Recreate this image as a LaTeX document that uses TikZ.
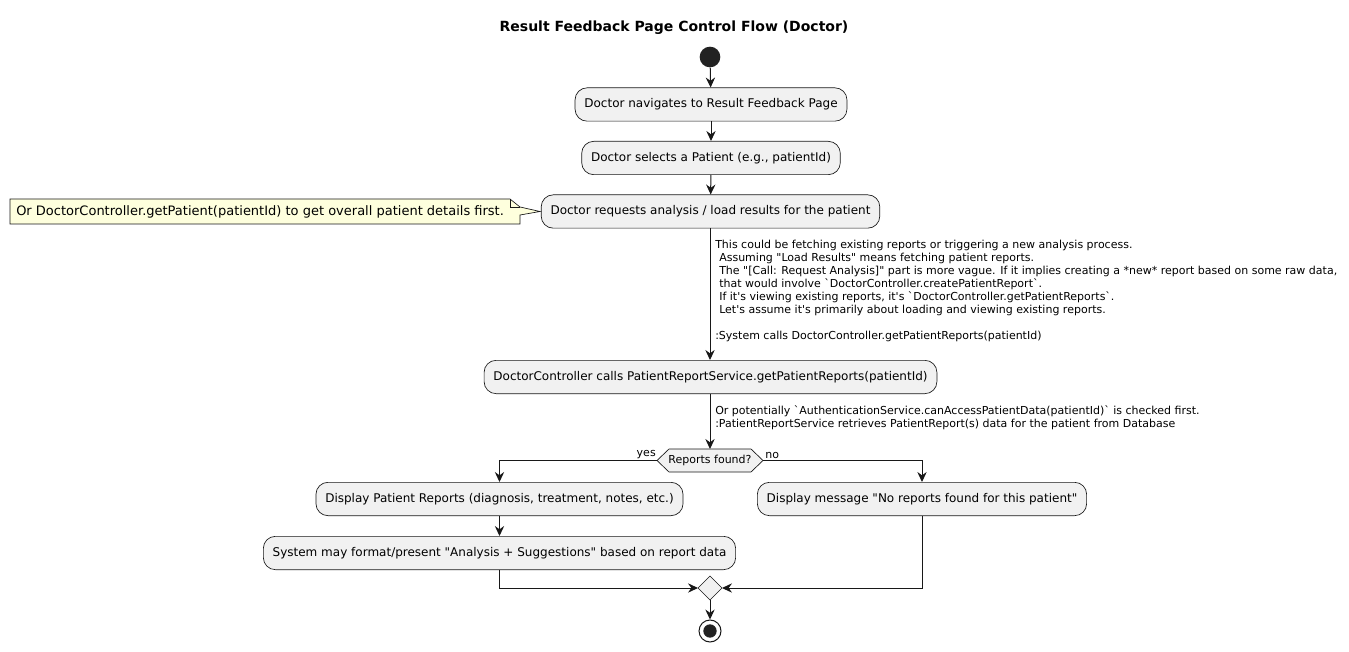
\documentclass[tikz,border=0pt]{standalone}
\usepackage{fontspec}
\setmainfont{DejaVu Sans}[Ligatures=TeXOff]
\usetikzlibrary{arrows.meta}
\definecolor{actfill}{HTML}{F1F1F1}
\definecolor{linec}{HTML}{181818}
\definecolor{notefill}{HTML}{FEFFDD}
\definecolor{dotc}{HTML}{222222}
\tikzset{
  px/.style={x=0.75pt,y=-0.75pt},
  act/.style={draw=linec,fill=actfill,rounded corners=9pt,minimum height=25pt,inner xsep=7pt,font=\fontsize{9}{11}\selectfont,line width=0.5pt},
  lbl/.style={align=left,anchor=north west,inner sep=0pt,font=\fontsize{8.25}{9.75}\selectfont},
  flow/.style={draw=linec,line width=0.75pt,-{Stealth[length=7.5pt,width=7pt,inset=2.5pt]}},
  plain/.style={draw=linec,line width=0.75pt},
  small/.style={inner sep=0pt,font=\fontsize{8.25}{9.75}\selectfont},
  shapeline/.style={draw=linec,line width=0.5pt},
}
\begin{document}
\begin{tikzpicture}[px]
\useasboundingbox (0,0) rectangle (1349,652);
\node[font=\bfseries\fontsize{10.5}{12}\selectfont] (title) at (674,28) {Result Feedback Page Control Flow (Doctor)};
\node[circle,fill=dotc,minimum size=15.5pt,inner sep=0pt] (start) at (710,57) {};
\node[act] (a1) at (711,104.5) {Doctor navigates to Result Feedback Page};
\node[act] (a2) at (711,158) {Doctor selects a Patient (e.g., patientId)};
\node[act] (a3) at (710.5,211.5) {Doctor requests analysis / load results for the patient};
% note
\draw[shapeline,fill=notefill] (10,199) -- (510,199) -- (520,207) -- (540,211.5) -- (520,215) -- (520,224) -- (10,224) -- cycle;
\draw[shapeline] (510,199) -- (510,207) -- (520,207);
\node[inner sep=0pt,anchor=west,font=\fontsize{9.75}{11}\selectfont] (note) at (16,211.5) {Or DoctorController.getPatient(patientId) to get overall patient details first.};
\node[act] (a4) at (710.5,377) {DoctorController calls PatientReportService.getPatientReports(patientId)};
% decision hexagon
\coordinate (dl) at (657,460.5);
\coordinate (dr) at (763,460.5);
\coordinate (dt) at (710,449);
\coordinate (db) at (710,472);
\draw[shapeline,fill=actfill] (dl) -- (669,449) -- (751,449) -- (dr) -- (751,472) -- (669,472) -- cycle;
\node[small] (dtext) at (710,460.5) {Reports found?};
\node[small,anchor=south east] (yes) at (656,459) {yes};
\node[small,anchor=south west] (no) at (765,459) {no};
\node[act] (a5) at (499.5,499) {Display Patient Reports (diagnosis, treatment, notes, etc.)};
\node[act] (a6) at (499.5,553) {System may format/present "Analysis + Suggestions" based on report data};
\node[act] (a7) at (922,499) {Display message "No reports found for this patient"};
% merge diamond
\draw[shapeline,fill=actfill] (698,588) -- (710,576) -- (722,588) -- (710,600) -- cycle;
\coordinate (ml) at (698,588);
\coordinate (mr) at (722,588);
\coordinate (mt) at (710,576);
\coordinate (mb) at (710,600);
% end
\node[circle,draw=linec,line width=0.75pt,fill=white,minimum size=16.5pt,inner sep=0pt] (endo) at (710,631) {};
\node[circle,fill=dotc,minimum size=10pt,inner sep=0pt] (endi) at (710,631) {};
% labels
\node[lbl] (l1) at (715,239.5) {This could be fetching existing reports or triggering a new analysis process.\\
\hspace*{3pt}Assuming "Load Results" means fetching patient reports.\\
\hspace*{3pt}The "[Call: Request Analysis]" part is more vague. If it implies creating a *new* report based on some raw data,\\
\hspace*{3pt}that would involve `DoctorController.createPatientReport`.\\
\hspace*{3pt}If it's viewing existing reports, it's `DoctorController.getPatientReports`.\\
\hspace*{3pt}Let's assume it's primarily about loading and viewing existing reports.\\[9.75pt]
:System calls DoctorController.getPatientReports(patientId)};
\node[lbl] (l2) at (715,405) {Or potentially `AuthenticationService.canAccessPatientData(patientId)` is checked first.\\
:PatientReportService retrieves PatientReport(s) data for the patient from Database};
% connectors
\draw[flow] (start) -- (a1);
\draw[flow] (a1) -- (a2);
\draw[flow] (a2) -- (a3);
\draw[flow] (a3.south -| 710,0) -- (a4.north -| 710,0);
\draw[flow] (a4.south -| 710,0) -- (dt);
\draw[flow] (dl) -| (a5.north);
\draw[flow] (dr) -| (a7.north);
\draw[flow] (a5) -- (a6);
\draw[flow] (a6.south) |- (ml);
\draw[flow] (a7.south) |- (mr);
\draw[flow] (mb) -- (endo.north);
\end{tikzpicture}
\end{document}
